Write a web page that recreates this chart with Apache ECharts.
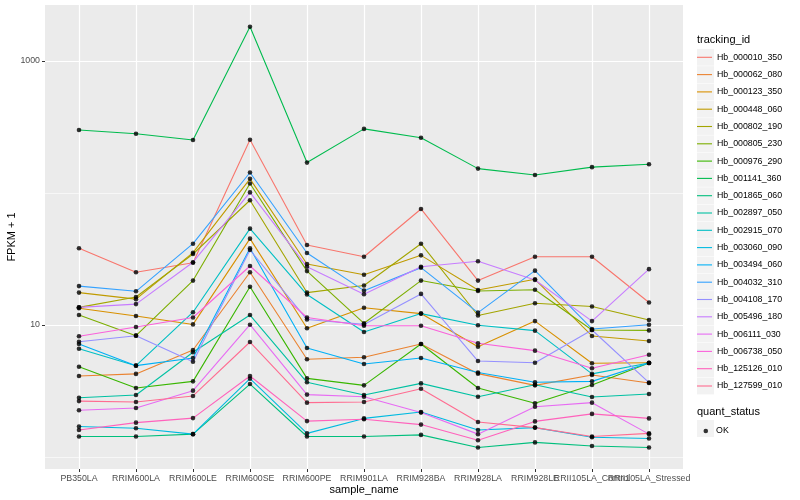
<!DOCTYPE html>
<html><head><meta charset="utf-8">
<script src="https://cdn.jsdelivr.net/npm/echarts@6/dist/echarts.min.js"></script>
<style>html,body{margin:0;padding:0;background:#fff}#c{width:800px;height:500px}</style>
</head><body><div id="c"></div>
<script>
const categories = ['PB350LA','RRIM600LA','RRIM600LE','RRIM600SE','RRIM600PE','RRIM901LA','RRIM928BA','RRIM928LA','RRIM928LE','RRII105LA_Control','RRII105LA_Stressed'];
const seriesNames = ['Hb_000010_350','Hb_000062_080','Hb_000123_350','Hb_000448_060','Hb_000802_190','Hb_000805_230','Hb_000976_290','Hb_001141_360','Hb_001865_060','Hb_002897_050','Hb_002915_070','Hb_003060_090','Hb_003494_060','Hb_004032_310','Hb_004108_170','Hb_005496_180','Hb_006111_030','Hb_006738_050','Hb_125126_010','Hb_127599_010'];
const colors = ['#F8766D','#EA8331','#D89000','#C09B00','#A3A500','#7CAE00','#39B600','#00BB4E','#00BF7D','#00C1A3','#00BFC4','#00BAE0','#00B0F6','#35A2FF','#9590FF','#C77CFF','#E76BF3','#FA62DB','#FF62BC','#FF6C91'];
const yTickLabels = [10, 1000];
const yMinorLines = [1, 100];

const hb000010_350 = [38.1, 25.1, 29.6, 253, 40.4, 32.9, 75.7, 21.7, 32.9, 32.9, 14.8];
const hb000062_080 = [4.11, 4.26, 6.47, 25.1, 5.50, 5.69, 7.18, 4.28, 3.49, 4.18, 3.64];
const hb000123_350 = [13.4, 11.7, 10.1, 45.1, 9.44, 13.5, 12.2, 6.85, 10.7, 5.13, 5.18];
const hb000448_060 = [17.6, 15.7, 35.3, 128, 29.0, 24.0, 33.7, 18.4, 22.2, 8.26, 7.57];
const hb000802_190 = [13.6, 16.3, 34.5, 88.1, 17.6, 19.9, 41.3, 11.8, 14.6, 13.8, 10.9];
const hb000805_230 = [11.9, 8.30, 21.7, 118, 25.6, 10.3, 21.7, 18.1, 18.5, 9.16, 9.10];
const hb000976_290 = [4.83, 3.33, 3.74, 19.5, 3.94, 3.49, 7.18, 3.33, 2.55, 3.51, 5.15];
const hb001141_360 = [300, 281, 252, 1818, 170, 306, 262, 153, 137, 157, 165];
const hb001865_060 = [1.43, 1.43, 1.49, 3.57, 1.43, 1.43, 1.47, 1.18, 1.29, 1.21, 1.18];
const hb002897_050 = [2.81, 2.95, 6.21, 11.9, 3.68, 2.95, 3.61, 2.86, 3.53, 2.85, 3.00];
const hb002915_070 = [6.61, 4.92, 12.5, 53.7, 17.0, 8.85, 12.2, 9.95, 9.06, 4.26, 5.15];
const hb003060_090 = [1.70, 1.65, 1.49, 3.92, 1.51, 1.96, 2.19, 1.60, 1.67, 1.41, 1.38];
const hb003494_060 = [7.18, 4.92, 5.62, 38.1, 6.70, 5.07, 5.62, 4.36, 3.68, 3.74, 5.15];
const hb004032_310 = [19.7, 18.0, 41.3, 143, 35.1, 18.2, 27.2, 12.4, 25.8, 9.33, 10.05];
const hb004108_170 = [7.46, 8.30, 5.27, 37.0, 11.0, 10.1, 17.2, 5.33, 5.18, 9.16, 3.66];
const hb005496_180 = [13.6, 14.4, 29.9, 101, 27.6, 17.1, 27.6, 30.4, 21.9, 10.7, 26.5];
const hb006111_030 = [2.26, 2.35, 3.18, 10.05, 2.97, 2.86, 2.17, 1.49, 2.40, 2.58, 1.49];
const hb006738_050 = [8.21, 9.66, 11.4, 28.0, 11.4, 9.88, 9.88, 7.27, 6.39, 4.70, 5.95];
const hb125126_010 = [1.60, 1.82, 1.97, 4.11, 1.87, 1.93, 1.76, 1.34, 1.86, 2.12, 1.96];
const hb127599_010 = [2.65, 2.61, 2.90, 7.43, 2.58, 2.61, 3.29, 1.84, 1.67, 1.43, 1.51];

const seriesData = [hb000010_350, hb000062_080, hb000123_350, hb000448_060, hb000802_190, hb000805_230, hb000976_290, hb001141_360, hb001865_060, hb002897_050, hb002915_070, hb003060_090, hb003494_060, hb004032_310, hb004108_170, hb005496_180, hb006111_030, hb006738_050, hb125126_010, hb127599_010];

const FONT = 'Liberation Sans';
const yMin = 0.811, yMax = 2656;
const ROW = 17.3, FIRST_ROW = 57.3;

const series = seriesNames.map((n, i) => ({
  type: 'line', name: n, xAxisIndex: 1, yAxisIndex: 2,
  data: seriesData[i], showSymbol: false, symbol: 'none',
  lineStyle: { width: 1.1, color: colors[i] }, itemStyle: { color: colors[i] },
  emphasis: { disabled: true },
  silent: true, animation: false
}));
const points = [];
seriesData.forEach(arr => arr.forEach((v, j) => points.push([j, v])));
series.push({ type: 'scatter', name: 'OK', xAxisIndex: 1, yAxisIndex: 2, data: points,
  symbol: 'circle', symbolSize: 4.6, itemStyle: { color: '#000' }, z: 5, silent: true, animation: false });

const keyBoxes = seriesNames.map((n, k) => ({ type: 'rect', silent: true, shape: { x: 0, y: ROW * k, width: 17, height: 16.8 }, style: { fill: '#F2F2F2' } }));
keyBoxes.push({ type: 'rect', silent: true, shape: { x: 0, y: 420 - (FIRST_ROW - 8.4), width: 17, height: 17 }, style: { fill: '#F2F2F2' } });
const graphics = [
  { type: 'group', x: 697, y: FIRST_ROW - 8.4, z: -10, silent: true, children: keyBoxes },
  { type: 'text', silent: true, left: 697, top: 34.5, style: { text: 'tracking_id', fontSize: 11, fontFamily: FONT, fill: '#000' } },
  { type: 'text', silent: true, left: 697, top: 406.5, style: { text: 'quant_status', fontSize: 11, fontFamily: FONT, fill: '#000' } }
];

const option = {
  animation: false,
  backgroundColor: '#fff',
  textStyle: { fontFamily: FONT },
  grid: [
    { left: 45, top: 5, width: 638, height: 464, show: true, backgroundColor: '#EBEBEB', borderWidth: 0, containLabel: false, outerBoundsMode: 'none' },
    { left: 79, top: 5, width: 570, height: 464, show: false, containLabel: false, outerBoundsMode: 'none' }
  ],
  xAxis: [
    { gridIndex: 0, type: 'value', min: 0, max: 1, show: false },
    { gridIndex: 1, type: 'category', data: categories, boundaryGap: false,
      axisLine: { show: false },
      axisTick: { show: true, length: 3, alignWithLabel: true, lineStyle: { color: '#333' } },
      axisLabel: { interval: 0, color: '#4D4D4D', fontSize: 8.8, fontFamily: FONT, margin: 5 },
      splitLine: { show: true, lineStyle: { color: '#fff', width: 1.2 } },
      name: 'sample_name', nameLocation: 'middle', nameGap: 15, nameMoveOverlap: false,
      nameTextStyle: { fontSize: 11, color: '#000', fontFamily: FONT } }
  ],
  yAxis: [
    { gridIndex: 0, type: 'log', logBase: 10, min: yMin, max: yMax, position: 'left', offset: 0,
      axisLine: { show: false }, axisLabel: { show: false },
      axisTick: { show: false, customValues: yMinorLines },
      splitLine: { show: true, lineStyle: { color: '#fff', width: 0.6 } } },
    { gridIndex: 0, type: 'log', logBase: 10, min: yMin, max: yMax, position: 'left', offset: 0,
      axisLine: { show: false },
      axisTick: { show: true, length: 3, customValues: yTickLabels, lineStyle: { color: '#333' } },
      axisLabel: { customValues: yTickLabels, color: '#4D4D4D', fontSize: 8.8, fontFamily: FONT, margin: 5,
        formatter: v => String(Math.round(v)) },
      splitLine: { show: true, lineStyle: { color: '#fff', width: 1.2 } },
      name: 'FPKM + 1', nameLocation: 'middle', nameGap: 28, nameMoveOverlap: false,
      nameTextStyle: { fontSize: 11, color: '#000', fontFamily: FONT } },
    { gridIndex: 1, type: 'log', logBase: 10, min: yMin, max: yMax, show: false }
  ],
  legend: [
    { data: seriesNames, orient: 'vertical', left: 697, top: FIRST_ROW - ROW / 2, padding: 0, z: 10,
      itemWidth: 15, itemHeight: 1.1, itemGap: 0, selectedMode: false, legendHoverLink: false,
      icon: 'rect',
      itemStyle: { borderWidth: 0 },
      textStyle: { fontSize: 8.8, lineHeight: ROW, color: '#000', fontFamily: FONT } },
    { data: ['OK'], orient: 'vertical', left: 703.5, top: 426.5, padding: 0, z: 10,
      itemWidth: 4.6, itemHeight: 4.6, selectedMode: false, legendHoverLink: false,
      icon: 'circle',
      itemStyle: { borderWidth: 0 },
      textStyle: { fontSize: 8.8, color: '#000', fontFamily: FONT, padding: [0, 0, 0, 3] } }
  ],
  graphic: graphics,
  series: series
};
const chart = echarts.init(document.getElementById('c'));
chart.setOption(option);
</script>
</body></html>
